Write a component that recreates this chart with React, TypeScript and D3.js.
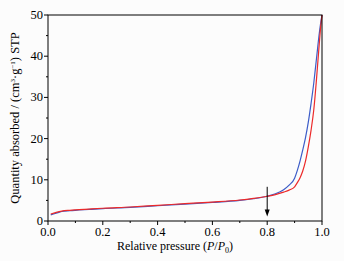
import React from "react";
import * as d3 from "d3";

const pressures = [0.01, 0.03, 0.05, 0.08, 0.1, 0.15, 0.2, 0.3, 0.4, 0.5, 0.6, 0.7, 0.75, 0.8, 0.83, 0.86, 0.88, 0.9, 0.91, 0.92, 0.93, 0.94, 0.95, 0.96, 0.97, 0.98, 0.99, 0.995, 1.0];
const adsorption = [1.7, 2.1, 2.4, 2.6, 2.7, 2.9, 3.1, 3.4, 3.8, 4.2, 4.6, 5.1, 5.5, 6.0, 6.4, 7.0, 7.5, 8.3, 9.3, 10.5, 12.2, 14.6, 18.0, 22.0, 27.0, 34.5, 43.0, 47.0, 50.0];
const desorption = [1.5, 1.9, 2.3, 2.5, 2.6, 2.8, 3.0, 3.3, 3.7, 4.1, 4.5, 5.0, 5.4, 6.0, 6.6, 7.6, 8.7, 10.4, 12.3, 14.6, 17.3, 20.3, 24.0, 28.5, 33.5, 39.5, 45.5, 48.0, 50.0];

const xTicks = [0.0, 0.2, 0.4, 0.6, 0.8, 1.0];
const xMinor = [0.1, 0.3, 0.5, 0.7, 0.9];
const yTicks = [0, 10, 20, 30, 40, 50];
const yMinor = [5, 15, 25, 35, 45];
const arrowFrom = 8.3;
const arrowTo = 1.1;
const arrowAt = 0.8;

export default function App() {
  const W = 344, H = 261;
  const L = 48, R = 322, T = 15, B = 221;
  const x = d3.scaleLinear().domain([0, 1]).range([L, R]);
  const y = d3.scaleLinear().domain([0, 50]).range([B, T]);
  const line = d3.line<number>().x((_, i) => x(pressures[i])).y((d) => y(d)).curve(d3.curveMonotoneX);
  const font = '"Liberation Serif", "DejaVu Serif", "Times New Roman", serif';
  return (
    <svg width={W} height={H} style={{ position: "absolute", left: 0, top: 0, fontFamily: font }}>
      <rect x={0} y={0} width={W} height={H} fill="#fcfcfc" />
      <path d={line(desorption) || ""} fill="none" stroke="#3c5cc8" strokeWidth={1.2} />
      <path d={line(adsorption) || ""} fill="none" stroke="#ec2a2a" strokeWidth={1.2} />
      <rect x={L} y={T} width={R - L} height={B - T} fill="none" stroke="#000" strokeWidth={1} />
      {xTicks.map((t) => (
        <g key={"x" + t}>
          <line x1={x(t)} x2={x(t)} y1={B} y2={B + 4} stroke="#000" />
          <text x={x(t)} y={B + 15} textAnchor="middle" fontSize={12.5} style={{ fontFamily: font }}>{t.toFixed(1)}</text>
        </g>
      ))}
      {xMinor.map((t) => (
        <line key={"xm" + t} x1={x(t)} x2={x(t)} y1={B} y2={B + 2} stroke="#000" />
      ))}
      {yTicks.map((t) => (
        <g key={"y" + t}>
          <line x1={L - 4} x2={L} y1={y(t)} y2={y(t)} stroke="#000" />
          <text x={L - 5} y={y(t) + 4} textAnchor="end" fontSize={12.5} style={{ fontFamily: font }}>{t}</text>
        </g>
      ))}
      {yMinor.map((t) => (
        <line key={"ym" + t} x1={L - 2} x2={L} y1={y(t)} y2={y(t)} stroke="#000" />
      ))}
      <line x1={x(arrowAt)} x2={x(arrowAt)} y1={y(arrowFrom)} y2={y(arrowTo) - 5} stroke="#000" strokeWidth={1} />
      <path d={`M${x(arrowAt) - 2.5},${y(arrowTo) - 7} L${x(arrowAt) + 2.5},${y(arrowTo) - 7} L${x(arrowAt)},${y(arrowTo)} Z`} fill="#000" />
      <text x={175} y={250} textAnchor="middle" fontSize={12} style={{ fontFamily: font }}>
        Relative pressure (<tspan fontStyle="italic">P</tspan>/<tspan fontStyle="italic">P</tspan><tspan fontSize={8} dy={3}>0</tspan><tspan dy={-3}>)</tspan>
      </text>
      <text transform={`translate(19,118) rotate(-90)`} textAnchor="middle" fontSize={12.5} style={{ fontFamily: font }}>
        Quantity absorbed / (cm<tspan fontSize={7} dy={-4}>3</tspan><tspan dy={4}>·g</tspan><tspan fontSize={7} dy={-4}>−1</tspan><tspan dy={4}>) STP</tspan>
      </text>
    </svg>
  );
}
